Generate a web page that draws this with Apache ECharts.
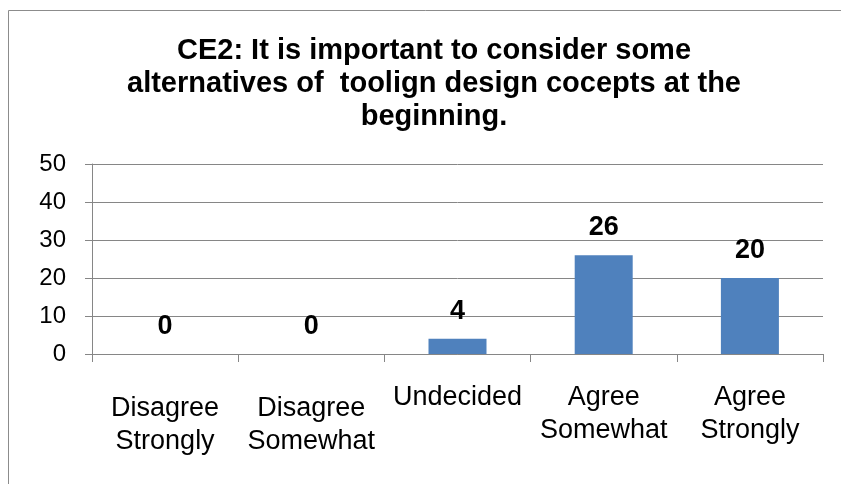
<!DOCTYPE html>
<html>
<head>
<meta charset="utf-8">
<script src="https://cdn.jsdelivr.net/npm/echarts@6/dist/echarts.min.js"></script>
<style>
  html, body { margin: 0; padding: 0; background: #fff; }
  #chart { width: 841px; height: 484px; }
</style>
</head>
<body>
<div id="chart"></div>
<script>
// Survey responses for statement CE2
const titleText = 'CE2: It is important to consider some\nalternatives of  toolign design cocepts at the\nbeginning.';
const categories = ['Disagree\nStrongly', 'Disagree\nSomewhat', 'Undecided', 'Agree\nSomewhat', 'Agree\nStrongly'];
const responses = [0, 0, 4, 26, 20];
// the first two labels sit a little lower than the rest
const labelDrop = [11, 11, 0, 0, 0];

const FONT = '"Liberation Sans", Arial, sans-serif';
const chart = echarts.init(document.getElementById('chart'), null, { renderer: 'canvas' });

chart.setOption({
  animation: false,
  backgroundColor: '#ffffff',
  graphic: [{
    type: 'rect',
    shape: { x: 8.5, y: 10.5, width: 900, height: 600 },
    style: { fill: 'none', stroke: '#8c8c8c', lineWidth: 1 },
    silent: true
  }],
  title: {
    text: titleText,
    left: 429,
    textAlign: 'center',
    top: 29,
    textStyle: {
      fontFamily: FONT,
      fontWeight: 'bold',
      fontSize: 29,
      lineHeight: 33,
      color: '#000'
    }
  },
  grid: { left: 92, right: 18, top: 164, bottom: 130, containLabel: false },
  xAxis: {
    type: 'category',
    data: categories.map((c, i) => ({
      value: c,
      textStyle: { padding: [labelDrop[i], 0, 0, 0] }
    })),
    axisLine: { lineStyle: { color: '#868686', width: 1 } },
    axisTick: { show: true, length: 8, lineStyle: { color: '#868686' } },
    axisLabel: {
      interval: 0,
      margin: 27,
      fontFamily: FONT,
      fontSize: 27,
      lineHeight: 33,
      color: '#000'
    }
  },
  yAxis: {
    type: 'value',
    min: 0,
    max: 50,
    interval: 10,
    axisLine: { show: true, lineStyle: { color: '#868686', width: 1 } },
    axisTick: { show: true, length: 7, lineStyle: { color: '#868686' } },
    splitLine: { lineStyle: { color: '#868686', width: 1 } },
    axisLabel: {
      margin: 26,
      fontFamily: FONT,
      fontSize: 24,
      color: '#000'
    }
  },
  series: [{
    type: 'bar',
    data: responses,
    barWidth: 58,
    itemStyle: { color: '#4f81bd' },
    label: {
      show: true,
      position: 'top',
      distance: 14,
      fontFamily: FONT,
      fontWeight: 'bold',
      fontSize: 27,
      color: '#000'
    }
  }]
});
</script>
</body>
</html>
